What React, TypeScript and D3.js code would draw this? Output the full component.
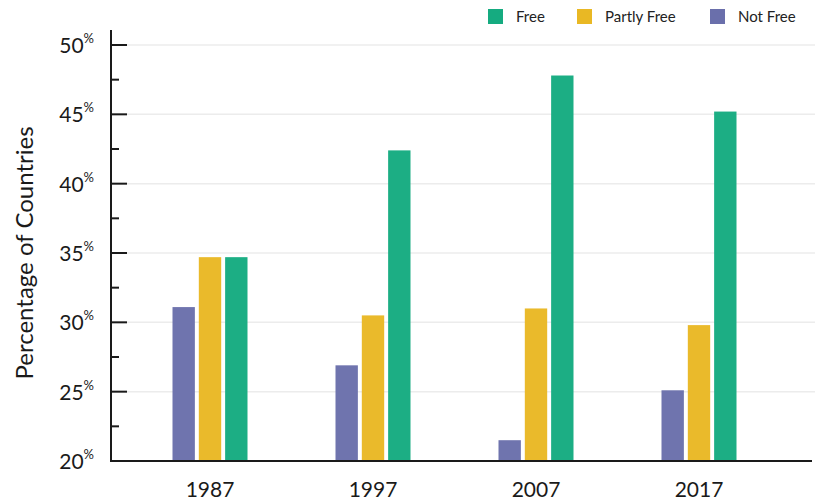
import React from "react";
import * as d3 from "d3";

const years = ["1987", "1997", "2007", "2017"];
const seriesNames = ["Not Free", "Partly Free", "Free"];
const notFree = [31.1, 26.9, 21.5, 25.1];
const partlyFree = [34.7, 30.5, 31.0, 29.8];
const free = [34.7, 42.4, 47.8, 45.2];
const majorTicks = [20, 25, 30, 35, 40, 45, 50];
const minorTicks = [22.5, 27.5, 32.5, 37.5, 42.5, 47.5];
const colors: Record<string, string> = {
  "Free": "#15ab80",
  "Partly Free": "#e9b824",
  "Not Free": "#6a6fab",
};
const legendOrder = ["Free", "Partly Free", "Not Free"];

const W = 815;
const H = 504;
const FONT = "Lato, 'Open Sans', sans-serif";

export default function App() {
  const axisX = 111;
  const baseY = 461;
  const y = d3.scaleLinear().domain([20, 50]).range([baseY, 45]);
  const x0 = d3.scaleBand<string>().domain(years).range([128.5, 780.5]).padding(0);
  const x1 = d3.scaleBand<string>().domain(seriesNames).range([-37.5, 37.5]).paddingInner(0.15);
  const values: Record<string, number[]> = {
    "Not Free": notFree,
    "Partly Free": partlyFree,
    "Free": free,
  };
  const legendX = [488, 577, 710];

  return (
    <svg
      width={W}
      height={H}
      style={{ position: "absolute", left: 0, top: 0, background: "#fff" }}
      fontFamily={FONT}
    >
      {majorTicks.slice(1).map((t) => (
        <line key={"g" + t} x1={axisX} x2={W} y1={y(t)} y2={y(t)} stroke="#ececec" strokeWidth={1.5} />
      ))}
      {years.map((yr, i) => {
        const cx = (x0(yr) as number) + x0.bandwidth() / 2;
        return seriesNames.map((s) => (
          <rect
            key={yr + s}
            x={cx + (x1(s) as number)}
            width={x1.bandwidth()}
            y={y(values[s][i])}
            height={baseY - y(values[s][i])}
            fill={colors[s]}
            fillOpacity={0.97}
          />
        ));
      })}
      <line x1={axisX} x2={axisX} y1={30} y2={baseY + 1} stroke="#1a1a1a" strokeWidth={2} />
      <line x1={axisX - 1} x2={812} y1={baseY} y2={baseY} stroke="#1a1a1a" strokeWidth={2} />
      {majorTicks.map((t) => (
        <line key={"mt" + t} x1={axisX} x2={127} y1={y(t)} y2={y(t)} stroke="#1a1a1a" strokeWidth={2} />
      ))}
      {minorTicks.map((t) => (
        <line key={"nt" + t} x1={axisX} x2={119} y1={y(t)} y2={y(t)} stroke="#1a1a1a" strokeWidth={2} />
      ))}
      {majorTicks.map((t) => (
        <text key={"tl" + t} x={94} y={y(t) + 8} textAnchor="end" fontSize={21} fill="#1a1a1a">
          {t}
          <tspan fontSize={13} dy={-10}>%</tspan>
        </text>
      ))}
      {years.map((yr) => (
        <text
          key={"xl" + yr}
          x={(x0(yr) as number) + x0.bandwidth() / 2}
          y={497}
          textAnchor="middle"
          fontSize={21}
          fill="#1a1a1a"
        >
          {yr}
        </text>
      ))}
      <text
        transform={`translate(33, 253) rotate(-90)`}
        textAnchor="middle"
        fontSize={24}
        fill="#1a1a1a"
      >
        Percentage of Countries
      </text>
      {legendOrder.map((s, i) => (
        <g key={"lg" + s} transform={`translate(${legendX[i]}, 9)`}>
          <rect x={0} y={0} width={15} height={15} fill={colors[s]} />
          <text x={28} y={13} fontSize={15} fill="#222">
            {s}
          </text>
        </g>
      ))}
    </svg>
  );
}
